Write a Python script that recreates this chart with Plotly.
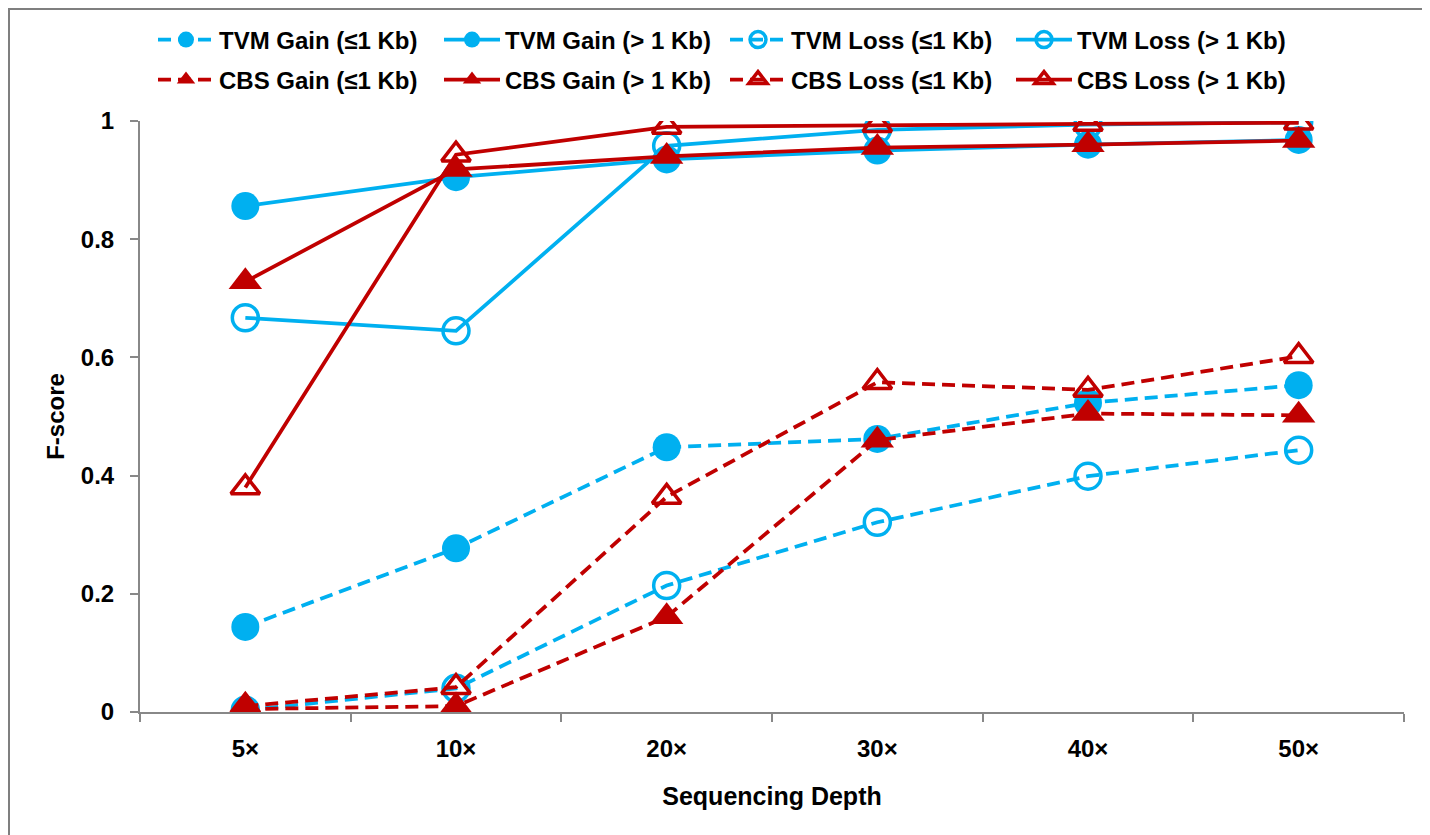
import plotly.graph_objects as go

depths = ["5×", "10×", "20×", "30×", "40×", "50×"]

tvm_gain_small = [0.144, 0.277, 0.448, 0.462, 0.523, 0.553]
tvm_gain_large = [0.856, 0.905, 0.935, 0.950, 0.960, 0.968]
tvm_loss_small = [0.003, 0.040, 0.214, 0.321, 0.399, 0.443]
tvm_loss_large = [0.667, 0.645, 0.958, 0.985, 0.994, 0.998]
cbs_gain_small = [0.005, 0.010, 0.161, 0.460, 0.505, 0.502]
cbs_gain_large = [0.728, 0.918, 0.940, 0.955, 0.960, 0.967]
cbs_loss_small = [0.010, 0.042, 0.364, 0.558, 0.545, 0.602]
cbs_loss_large = [0.380, 0.943, 0.990, 0.993, 0.995, 0.997]

names = [
    "TVM Gain (≤1 Kb)", "TVM Gain (> 1 Kb)", "TVM Loss (≤1 Kb)", "TVM Loss (> 1 Kb)",
    "CBS Gain (≤1 Kb)", "CBS Gain (> 1 Kb)", "CBS Loss (≤1 Kb)", "CBS Loss (> 1 Kb)",
]
series = [tvm_gain_small, tvm_gain_large, tvm_loss_small, tvm_loss_large,
          cbs_gain_small, cbs_gain_large, cbs_loss_small, cbs_loss_large]

BLUE = "#00B0F0"
RED = "#C00000"
DASH = "13px,7px"
styles = [
    (BLUE, DASH, "circle", 28, "legend"),
    (BLUE, "solid", "circle", 28, "legend"),
    (BLUE, DASH, "circle-open", 26, "legend"),
    (BLUE, "solid", "circle-open", 26, "legend"),
    (RED, DASH, "triangle-up", 29, "legend2"),
    (RED, "solid", "triangle-up", 29, "legend2"),
    (RED, DASH, "triangle-up-open", 25, "legend2"),
    (RED, "solid", "triangle-up-open", 25, "legend2"),
]

fig = go.Figure()
for name, vals, (col, dash, sym, size, leg) in zip(names, series, styles):
    fig.add_trace(go.Scatter(
        x=depths, y=vals, name=name, mode="lines+markers", legend=leg,
        line=dict(color=col, width=3.75, dash=dash),
        marker=dict(color=col, symbol=sym, size=size,
                    line=dict(color=col, width=3.5 if "open" in sym else 0)),
    ))

# the page adds an 8px body margin, so figure coords = page coords - 8
W, H = 1430, 835
L, R, T, B = 132, 34, 113, 131
PW, PH = W - L - R, H - T - B

font_family = "Liberation Sans, Arial, sans-serif"
legend_common = dict(
    orientation="h", xref="container", yref="container",
    xanchor="left", yanchor="middle",
    entrywidth=215, entrywidthmode="pixels", itemwidth=56,
    font=dict(size=24, family=font_family, color="black", weight="bold"),
    traceorder="normal", bgcolor="rgba(0,0,0,0)",
)
fig.update_layout(
    width=W, height=H,
    paper_bgcolor="white", plot_bgcolor="white",
    margin=dict(l=L, r=R, t=T, b=B, autoexpand=False),
    font=dict(family=font_family, color="black"),
    showlegend=True,
    legend=dict(legend_common, x=145 / W, y=1 - 32 / H),
    legend2=dict(legend_common, x=145 / W, y=1 - 72 / H),
    xaxis=dict(
        type="category", range=[-0.5, 5.5],
        showline=True, linecolor="#888888", linewidth=2,
        ticks="outside", ticklen=8, tickcolor="#888888", tickwidth=2,
        tickson="boundaries", showgrid=False, zeroline=False,
        ticklabelstandoff=14,
        tickfont=dict(size=24, weight="bold"),
        title=dict(text="Sequencing Depth", font=dict(size=25, weight="bold"), standoff=27),
    ),
    yaxis=dict(
        range=[0, 1], tickvals=[0, 0.2, 0.4, 0.6, 0.8, 1],
        ticktext=["0", "0.2", "0.4", "0.6", "0.8", "1"],
        showline=True, linecolor="#888888", linewidth=2,
        ticks="outside", ticklen=8, tickcolor="#888888", tickwidth=2,
        showgrid=False, zeroline=False,
        ticklabelstandoff=11,
        tickfont=dict(size=24, weight="bold"),
        title=dict(text="F-score", font=dict(size=24, weight="bold"), standoff=9),
    ),
)
fig.add_shape(type="rect", xref="paper", yref="paper",
              x0=(1 - L) / PW, x1=(1419 - L) / PW,
              y0=(T + PH - 845) / PH, y1=(T + PH - 1) / PH,
              line=dict(color="#7f7f7f", width=2), fillcolor="rgba(0,0,0,0)", layer="below")

fig.write_html("out.html")
